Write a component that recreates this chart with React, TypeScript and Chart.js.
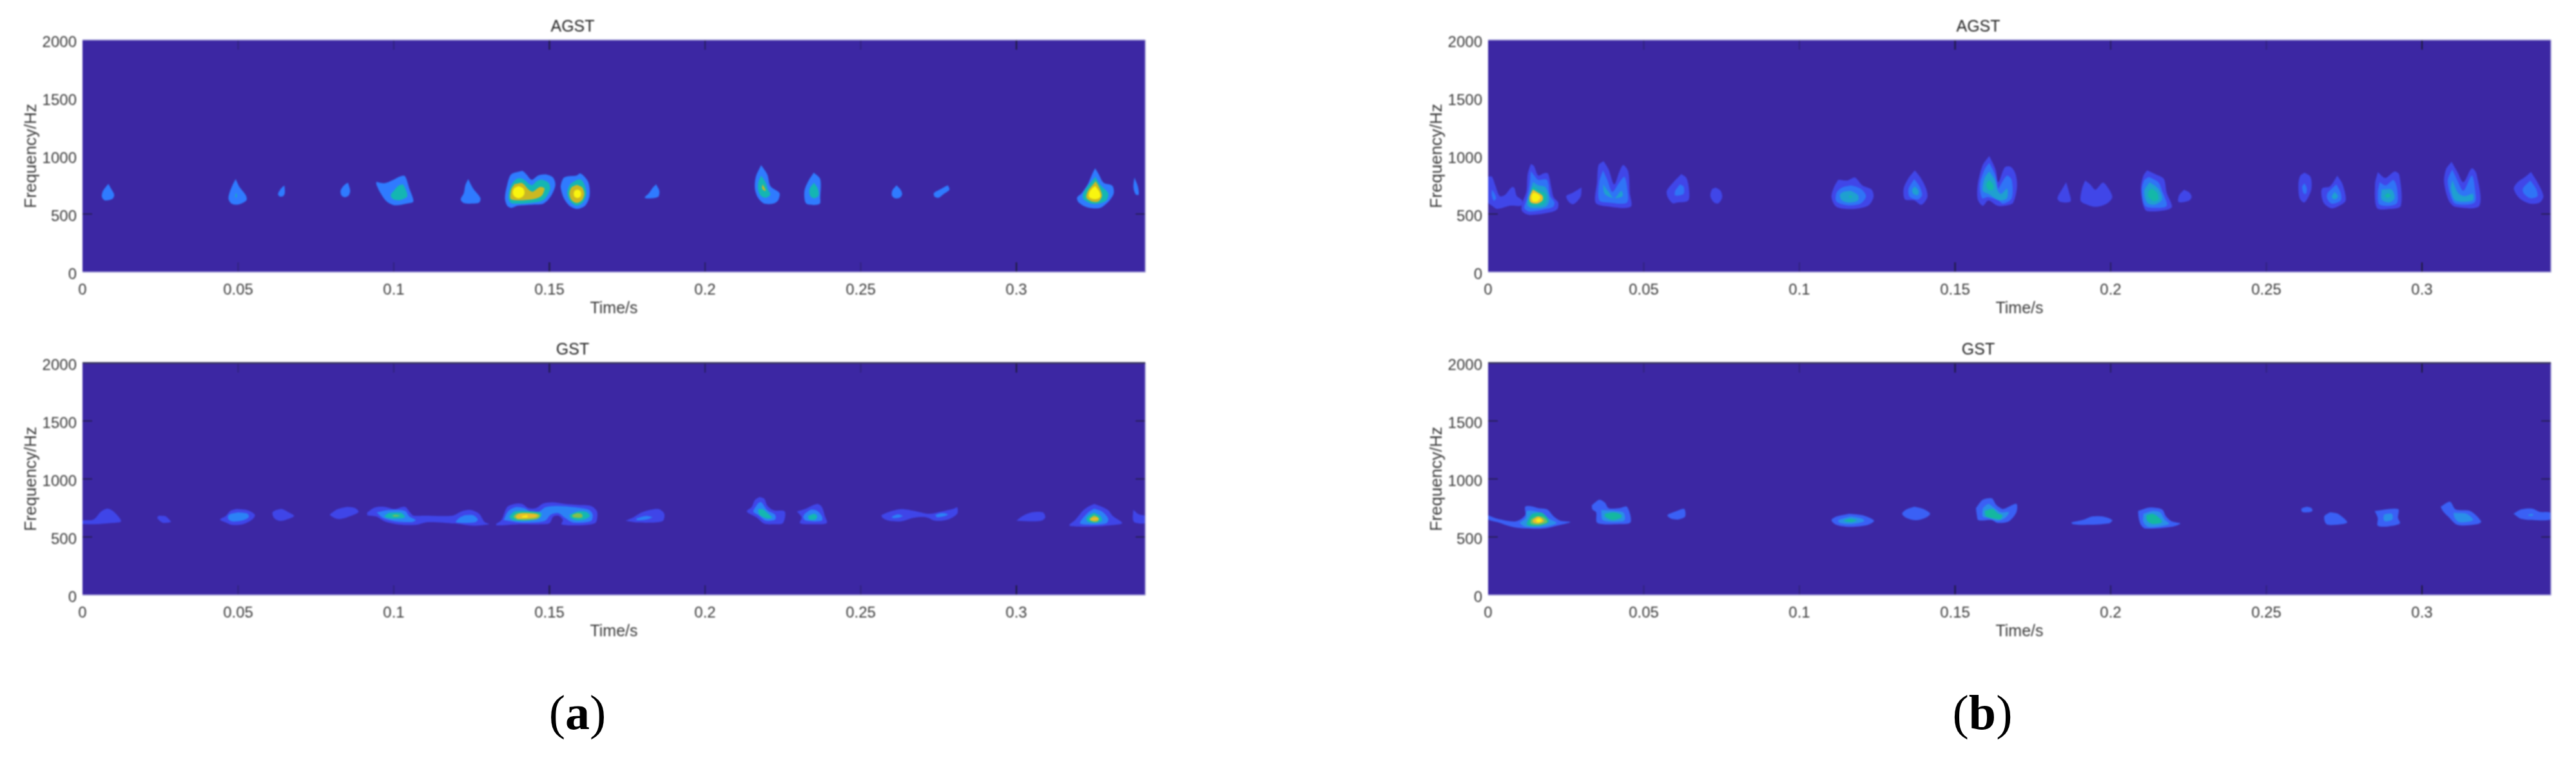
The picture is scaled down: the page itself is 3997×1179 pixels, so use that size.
import { useEffect, useRef } from "react";
import Chart from "chart.js/auto";

// each contour: [level, [t(ms), f(Hz), t, f, ...]]
type Contour = [number, number[]];

const xTickValues = [0, 0.05, 0.1, 0.15, 0.2, 0.25, 0.3];
const yTickValues = [0, 500, 1000, 1500, 2000];
const xTickShades = [null, 0.3, 0.3, 0.9, 0.55, 0.3, 0.9];

const agstLevelsA = ["", "#2F7BFF", "#14B6B2", "#CBB822", "#F9F50F"];
const gstLevelsA = ["", "#3F45E8", "#2B82F6", "#14B8B0", "#86C04A", "#E8BE28", "#F9EE10"];
const agstLevelsB = ["", "#4046E8", "#2F74F6", "#1FA0D0", "#14B8A8", "#E8BC30", "#F8F010"];
const gstLevelsB = ["", "#3A60F5", "#2A8FE8", "#14B8A0", "#70C060", "#E8BC30", "#F8F010"];

const agstA: Contour[] = [
  [1, [8.3,760, 9.6,700, 10.2,665, 9.8,635, 8.5,620, 7,620, 6.2,650, 6.6,700]],
  [1, [49.2,802, 50.5,730, 52.5,660, 52.7,620, 51,590, 49.5,580, 47.8,590, 46.9,630, 47.2,680, 48.2,750]],
  [2, [49.3,680, 49.6,660, 49.3,640, 49.1,660]],
  [1, [64.9,745, 65,680, 64.5,655, 63.5,650, 62.8,670, 63.5,710, 64.3,735]],
  [1, [85.3,770, 86,700, 85.5,660, 84.3,645, 83.2,660, 82.9,700, 83.6,735, 84.6,760]],
  [1, [94.4,778, 97,765, 99.5,790, 102.3,826, 103.6,826, 105,719, 106.3,608, 104.3,590, 100.3,575, 97.7,608, 95.7,682, 94.4,756]],
  [2, [103,755, 104,700, 104.3,650, 102,620, 100,625, 99,660, 100,700, 101.5,745]],
  [1, [123.9,802, 125.5,720, 127.8,640, 127.5,600, 125.5,590, 122.5,595, 121.5,625, 122.5,680, 123,750]],
  [1, [140.8,869, 137.7,841, 136.4,748, 135.7,637, 136.4,572, 137.7,553, 139.8,572, 144.6,581, 148.1,590, 150.5,655, 151.9,748, 151.2,813, 148.8,841, 146.4,832, 144.3,795, 142.6,841, 141.5,869]],
  [2, [139.5,804, 138.1,767, 137,692, 137,618, 138.1,590, 145.3,600, 148.4,627, 150.2,711, 149.8,767, 147.7,795, 146,785, 144.3,748, 141.9,795, 140.5,808]],
  [3, [138.8,757, 137.7,711, 137.7,627, 144.6,627, 147.4,655, 148.4,720, 147,733, 144.6,692, 143.3,711, 141.2,767]],
  [4, [140.1,740, 141.6,720, 142,687, 141.6,655, 140.1,635, 138.6,655, 138.2,687, 138.6,720]],
  [1, [153.9,776, 153.6,730, 154.6,637, 156.4,572, 158.8,544, 161.5,572, 162.9,655, 162.6,767, 161.2,823, 159.8,850, 158.8,832, 156.4,826, 154.6,813]],
  [2, [158.8,795, 156.7,757, 155.7,683, 156.7,609, 158.8,572, 160.8,600, 161.9,674, 161.2,757, 160.2,795]],
  [3, [158.8,752, 160.5,730, 161.2,674, 160.5,620, 158.8,596, 157.1,620, 156.4,674, 157.1,730]],
  [4, [159,711, 159.9,700, 160.2,674, 159.9,648, 159,637, 158.1,648, 157.8,674, 158.1,700]],
  [1, [184.3,756, 185.3,700, 185,650, 183,636, 180.6,640, 182,680, 183.3,730]],
  [1, [218,922, 220,840, 221,740, 223.9,680, 223.5,620, 222,590, 219,590, 217,640, 216,720, 216.3,820]],
  [2, [218,830, 219.5,770, 220.2,710, 221,670, 219.5,640, 217.8,660, 217,720, 217.2,780]],
  [3, [218.5,755, 219.3,715, 219.5,700, 218.8,705, 218.3,725]],
  [1, [234.9,857, 237,800, 237,640, 236.9,590, 235,578, 232.5,590, 231.9,640, 232,710, 233.3,790]],
  [2, [235,770, 236.2,720, 236.5,660, 235,636, 233.7,660, 233.6,720]],
  [1, [261.5,747, 262.8,710, 263.3,670, 262.5,640, 261,636, 260,660, 260.2,705]],
  [1, [278,747, 278.5,710, 276.5,670, 275,640, 273.7,650, 273.5,680, 275,705, 277,735]],
  [1, [325.3,894, 326.5,840, 328,770, 330.8,745, 331.3,680, 330,620, 327.5,560, 325.5,548, 322.5,560, 320,600, 319.5,640, 321,680, 323,760, 324.3,840]],
  [2, [325.4,820, 327,750, 329.5,680, 329,620, 326.5,590, 324,590, 321.5,630, 321.5,680, 323.5,760]],
  [3, [325.5,783, 326.8,720, 327.5,660, 326.5,610, 324.5,605, 322.5,640, 323,700, 324.5,750]],
  [4, [325.4,740, 326.7,690, 327,650, 326,630, 324.5,630, 323.3,650, 323.5,690, 324.5,725]],
  [1, [337.9,815, 339,740, 339.3,667, 338.3,670, 337.6,730]],
];

const gstA: Contour[] = [
  [1, [0,611, 0,640, 3.5,650, 6,720, 8,745, 10,720, 12.4,635, 9,620, 4,610]],
  [1, [24.5,684, 26.5,680, 27.5,660, 28.4,630, 26,621, 25,635, 24,665]],
  [1, [49.5,741, 53,730, 55.4,690, 54.5,650, 51.5,610, 48,604, 46,625, 44.2,650, 46,680, 47.5,725]],
  [2, [50,712, 53,700, 53.4,670, 51,640, 48,635, 46.8,655, 47,690]],
  [1, [62,730, 64,741, 66,715, 68,680, 65,645, 63,640, 61.5,665, 61,710]],
  [1, [85,760, 87.5,750, 88.7,715, 85,670, 82,655, 79.5,690, 80.5,715, 82,740]],
  [1, [91.5,712, 93.8,753, 97,760, 100.3,741, 103.6,760, 105.2,712, 106.3,684, 109.6,684, 118.8,684, 122.2,725, 124.8,732, 127.4,700, 129.2,628, 130.7,611, 125.5,597, 119.5,616, 111,628, 107,604, 101.7,607, 97,635, 94.4,676, 91.5,688]],
  [2, [94.5,712, 98.4,732, 103.6,725, 105,676, 107,645, 105.6,628, 100.3,635, 96.4,665]],
  [2, [122.8,688, 125.5,688, 127,652, 126,626, 120,626, 121,664]],
  [3, [98.4,708, 102.3,708, 103.6,669, 99.7,657, 97,676]],
  [4, [100.5,690, 102,684, 100.5,676, 99.5,684]],
  [1, [132.9,613, 134.6,646, 136.4,757, 138.8,785, 141.2,785, 143.3,748, 145.7,748, 147.7,785, 150.8,798, 155,785, 159.1,776, 163.3,767, 165.3,720, 165,628, 163.3,609, 158.4,600, 153.9,609, 154.3,646, 152.9,683, 151.2,674, 150,618, 146.7,609, 139.8,609, 132.9,600]],
  [2, [135.3,646, 136.7,720, 139.1,757, 141.9,748, 143.9,720, 146.7,720, 148.8,757, 152.9,767, 157.7,757, 162.6,735, 163.9,693, 163.3,637, 157.7,624, 155,665, 152.9,706, 150.5,693, 148.4,637, 141.2,624]],
  [3, [137,674, 138.8,720, 143.3,724, 147.4,706, 147,665, 143.9,643, 138.4,643]],
  [3, [156.4,690, 159.1,720, 161.9,715, 163,680, 161.2,650, 158.4,645, 156.8,665]],
  [4, [157.4,690, 159.1,705, 160.5,695, 160.5,670, 158.7,665, 157.4,675]],
  [4, [138.3,674, 139.8,705, 145.3,705, 147,687, 146,655, 139.8,650]],
  [5, [139.1,680, 140.5,702, 145,698, 146.4,683, 145,665, 139.8,657]],
  [6, [141.2,680, 142.9,687, 142.9,670, 141.2,670]],
  [1, [174.4,640, 177,670, 180,715, 184.9,741, 186.9,700, 186.5,640, 184,625, 178,625]],
  [2, [178,660, 181,680, 183,670, 181,650, 178,645]],
  [1, [217.5,845, 219,830, 220,770, 222,730, 225.6,720, 225,620, 222,610, 219,615, 216.5,670, 213.4,720, 215,760, 216,820]],
  [2, [217,790, 218,800, 220,730, 222.5,690, 222.5,650, 219.5,640, 217,690, 215.5,720]],
  [3, [217,740, 218.5,740, 220.3,700, 221.5,665, 219.8,660, 217.5,690]],
  [1, [229.5,720, 232,740, 236,785, 237.5,760, 238.5,680, 239.1,620, 235,610, 230.5,618, 231,670]],
  [2, [232,700, 234,735, 236,725, 237.5,680, 237.5,640, 232.5,640, 231.5,670]],
  [3, [233,680, 235,700, 236,680, 235.5,650, 233.5,650]],
  [1, [256.6,688, 259,715, 263,740, 268,720, 272,700, 276,720, 280,745, 281,755, 281,700, 278,650, 274,640, 271,670, 267,665, 263,635, 259,640, 257,665]],
  [2, [260.3,680, 262,695, 263.5,680, 262,665, 260,665]],
  [2, [274,690, 276,705, 278,695, 277,680, 274.5,670]],
  [1, [300,640, 302,680, 305,712, 308.5,712, 309.3,670, 308,640, 304,635]],
  [1, [325,785, 327.5,760, 329.5,730, 331,680, 334,620, 330,600, 325,590, 320,590, 317,600, 319,650, 321.5,730, 323,760]],
  [2, [325,745, 327.5,720, 329.5,660, 329,620, 325,605, 320.5,615, 321,650, 323,710]],
  [3, [325,710, 327,680, 327.5,640, 325.5,622, 323,630, 322.5,660, 323.5,690]],
  [4, [325,690, 326.5,660, 326,632, 324.5,632, 323.5,655]],
  [5, [324.5,670, 326,670, 326.5,650, 325,640, 323.5,650]],
  [1, [337.6,735, 339,700, 340,690, 341.4,680, 341.4,620, 338,625, 337.4,660]],
];

const agstB: Contour[] = [
  [1, [0,822, 1.2,822, 2.3,748, 3.7,655, 5.4,664, 7.5,729, 8.4,726, 9.2,655, 10.9,618, 10.6,572, 7.1,572, 3,544, 1.2,572, 0,600]],
  [2, [1.2,711, 1.9,683, 2.6,637, 1.9,614, 1.2,655]],
  [1, [13.7,930, 14.7,915, 16.1,832, 17.8,850, 19.2,850, 20.3,729, 21,646, 22.5,600, 22.3,544, 20.3,516, 13.3,492, 10.9,525, 10.9,590, 12.3,692, 12.7,841]],
  [2, [13.7,869, 15.1,822, 16.1,794, 18.9,794, 19.9,655, 21.3,600, 20.9,562, 18.9,544, 13.3,521, 11.6,553, 12.3,618, 13.3,748]],
  [3, [14.4,776, 16.1,748, 18.5,729, 19.6,618, 18.5,562, 13.7,553, 12.5,585, 13.3,674]],
  [4, [14.4,739, 16.5,702, 18.5,674, 18.5,609, 17.2,577, 13.7,577, 13,609, 13.7,683]],
  [5, [14.4,711, 16.1,683, 17.5,655, 17.5,618, 15.8,590, 13.7,600, 13.3,646]],
  [6, [14.4,683, 15.8,674, 16.8,646, 15.8,609, 14.4,609, 13.9,646]],
  [1, [30,729, 29.8,655, 28.6,609, 27.2,585, 25.8,609, 25.1,655, 27.2,683]],
  [1, [37.1,955, 38.7,885, 40.5,756, 42.2,867, 43.4,922, 45,867, 45.5,682, 45.8,562, 38,567, 34.5,599, 35,774, 35.5,922]],
  [2, [36.9,876, 38.3,793, 39.9,691, 42.2,774, 43.8,820, 44.6,737, 44.6,599, 38.7,599, 35.7,617, 35.7,774]],
  [3, [36.9,756, 38.7,691, 40.5,636, 42.8,700, 43.2,654, 40.5,636, 37.5,672]],
  [1, [62.1,845, 63.7,811, 64.5,719, 64.3,617, 60.7,599, 59.3,593, 57.7,645, 57.4,700, 59.5,774]],
  [2, [61.6,756, 62.8,737, 62.8,673, 60.1,660, 60.1,700]],
  [1, [73.2,728, 74.7,700, 75.2,645, 74,593, 72.6,599, 71.4,654, 72,715]],
  [1, [112.5,796, 115.4,789, 117.8,815, 120.2,747, 123.2,710, 123.8,645, 122,571, 116.6,543, 111.9,562, 110.3,645, 111.2,737]],
  [2, [116.6,747, 119.6,719, 121.4,654, 119.6,589, 115.4,575, 111.9,608, 111.9,682, 113.7,728]],
  [3, [116.6,700, 118.8,663, 118.8,617, 116,599, 113.7,617, 113,663, 114.2,691]],
  [4, [116.4,660, 117,648, 116.4,640, 115.8,648]],
  [1, [137.1,876, 139.2,802, 140.7,719, 141.1,645, 139.2,580, 136.9,617, 133.9,626, 133.5,719, 135.1,811]],
  [2, [136.9,802, 138.6,737, 139.4,663, 138,626, 135.4,649, 135.1,719]],
  [3, [137.1,737, 138.3,700, 138,663, 136.6,673, 136.2,711]],
  [1, [161,1000, 163,885, 163.9,774, 166,903, 167.9,907, 169.4,848, 169.9,737, 168.7,599, 166.7,575, 163.7,571, 160.7,617, 158.9,571, 157.3,626, 157.3,756, 158.9,922]],
  [2, [161,940, 163,830, 163.9,719, 164.3,737, 166.7,830, 168.2,793, 168.2,636, 165.5,589, 163.9,617, 160.7,645, 158.7,636, 158,756, 159.5,885]],
  [3, [161,867, 162.8,793, 163.7,700, 164.8,673, 166.7,719, 166.7,636, 164.3,617, 160.7,673, 158.9,700, 159.5,811]],
  [4, [161,793, 162.2,756, 162.2,710, 160.7,710, 160,756]],
  [1, [185.7,774, 186.5,700, 187.1,608, 183.9,604, 182.9,636, 184.5,719]],
  [1, [191.8,789, 193.4,756, 195.1,710, 197.5,771, 199.3,719, 200.5,645, 198.7,589, 195.1,562, 191.6,589, 190.3,617, 190.8,719]],
  [1, [211.7,876, 214.7,839, 217.1,802, 218,682, 219.7,562, 217.7,534, 211.7,525, 210.5,571, 209.7,719, 210.5,830]],
  [2, [212.3,820, 215.3,774, 216.5,700, 218,571, 214.7,553, 211,571, 210,700, 210.8,793]],
  [3, [212.5,774, 215.3,719, 216.5,626, 214.1,580, 211.7,599, 210.8,700]],
  [4, [213.3,719, 214.9,682, 215.3,626, 213.7,612, 212,654, 212.3,700]],
  [1, [223.6,710, 225.4,682, 226,645, 224.9,612, 221.8,604, 222,663]],
  [1, [262.3,857, 264.2,820, 264.5,719, 263.3,636, 262.1,599, 260.7,636, 260.3,756, 260.9,830]],
  [2, [262.3,765, 263,719, 262.7,673, 261.9,682, 261.5,737]],
  [1, [272.8,830, 274.5,756, 275.5,617, 273.4,571, 271,549, 268.6,589, 267.7,663, 268,722, 270.4,737]],
  [2, [272.5,756, 273.9,682, 273.9,617, 271,589, 269.5,636, 269.7,682]],
  [3, [271.9,691, 273,654, 272.1,626, 271,645]],
  [1, [285.8,861, 288.2,811, 291.2,867, 292.7,839, 293.2,571, 289.4,543, 285.5,553, 284.9,756]],
  [2, [286.4,774, 288.4,747, 290.8,793, 292,719, 291.8,589, 286.4,580, 285.8,682]],
  [3, [287,710, 290.3,710, 291.2,636, 289.4,599, 287,626]],
  [4, [289,680, 290,660, 289,640, 288,655]],
  [1, [309.5,950, 311.3,867, 313.3,774, 316,894, 317.5,848, 318.4,571, 310.7,562, 308.6,617, 307.1,774, 307.7,885]],
  [2, [309.7,885, 311.3,793, 313.3,700, 316,830, 317,719, 316.9,599, 310.7,589, 309,673, 308.3,793]],
  [3, [309.7,793, 311.6,682, 313.6,654, 316.3,673, 316.3,617, 310.7,617, 309.3,719]],
  [1, [335,863, 337.1,774, 339,654, 337.8,599, 334.8,589, 331.3,636, 329.5,719, 330.7,774, 333.1,820]],
  [2, [334.8,789, 336.6,719, 337.1,654, 334.8,636, 332.8,673, 332.4,719]],
];

const gstB: Contour[] = [
  [1, [0,688, 3,657, 8.9,635, 11.9,688, 11.9,760, 13.7,765, 16.1,749, 19,737, 21.1,676, 23.2,640, 26.4,628, 23.2,604, 17.9,573, 11.9,573, 7.7,587, 3,628, 0,652]],
  [2, [10.1,621, 12.1,664, 12.5,725, 16.7,712, 19,664, 22,621, 17.9,587, 11.9,587]],
  [3, [13.1,664, 14.3,700, 17.3,708, 19.6,635, 16.7,597, 12.5,604]],
  [4, [13.7,652, 15.5,676, 17.9,669, 19,628, 16.1,604, 13.7,616]],
  [5, [14.3,645, 16.1,676, 17.6,652, 17.9,635, 16.1,616, 14.5,626]],
  [6, [15.2,645, 16.4,660, 17.3,640, 16.1,626]],
  [1, [33.3,773, 35.7,821, 37.5,797, 38.7,749, 42.2,749, 44.6,761, 45.8,628, 42.2,611, 35.1,621, 34.7,712, 33.5,737]],
  [2, [36.3,732, 40.5,725, 43.4,712, 44,664, 43.4,635, 36.9,645]],
  [3, [37.5,700, 40.5,712, 42.9,688, 42.6,664, 39.9,645, 37.5,676]],
  [1, [60.7,725, 63,741, 63.3,676, 61.3,652, 58.9,657, 57.6,688]],
  [1, [116,700, 120.8,684, 124,640, 122,604, 116.6,587, 111.9,604, 110.3,645, 111.9,676]],
  [2, [116.6,676, 120.2,657, 120.8,635, 116.6,611, 113,621, 112.5,645]],
  [3, [116.3,657, 118.4,645, 116.6,628, 114.2,640]],
  [1, [136.9,761, 139.8,741, 142,700, 140.4,664, 137.4,645, 134.4,664, 133,700, 134.4,737]],
  [1, [156.7,749, 158.9,821, 161.8,833, 163,785, 163.9,761, 165.5,741, 169.7,785, 169.7,712, 167.3,635, 163.7,621, 161.8,645, 157.5,645, 157,688]],
  [2, [158.9,749, 160.7,785, 162.1,761, 163.9,725, 164.9,712, 167.3,712, 166.1,664, 163.7,640, 160.7,664, 158.9,676]],
  [3, [159.5,725, 162.1,741, 163.9,700, 165.2,688, 164.7,657, 163.9,652, 160,676]],
  [1, [187.4,626, 191.6,652, 194,676, 197.5,676, 200.5,645, 199.3,616, 191.6,604, 187.7,611]],
  [1, [208.8,724, 212.3,753, 216.5,737, 217.8,676, 219.6,635, 222.4,616, 219.6,587, 211.1,573, 209.7,604, 209,664]],
  [2, [210.5,700, 213.5,725, 215.9,712, 217.3,652, 218.8,611, 212.3,585, 210.5,628]],
  [3, [211.4,688, 213.5,700, 215.6,664, 216.5,628, 213.5,611, 211.7,640]],
  [1, [263,761, 264.5,749, 264.8,724, 263.3,712, 261.5,717, 261.3,744]],
  [1, [270.4,712, 273,700, 276,628, 274.5,611, 269.4,609, 268.6,676]],
  [1, [284.8,724, 292.3,741, 292.3,664, 292.9,616, 289.4,592, 285.8,597, 285.8,664]],
  [2, [287.9,695, 290.3,700, 290.5,652, 288.1,635, 287.6,664]],
  [1, [306,761, 309,804, 310.8,737, 315.5,724, 319,635, 317.9,611, 311.4,604, 308.4,676, 306.7,724]],
  [2, [310.1,708, 314.3,700, 316.4,645, 312,628, 310.5,664]],
  [1, [329.4,700, 331.8,737, 335.4,744, 337.7,717, 341.3,708, 341.3,652, 336.5,645, 331.8,657]],
  [2, [334.2,693, 335.6,698, 335.6,684, 334.2,684]],
];

const background = "#3C27A3";
const labelColor = "#3a3a3a";
const sans = "'Liberation Sans', Arial, sans-serif";

// MATLAB style frame and inward ticks, all placed through the scales
const axesFrame = {
  id: "axesFrame",
  beforeDatasetsDraw(chart) {
    const { ctx, chartArea: a } = chart;
    ctx.save();
    ctx.fillStyle = background;
    ctx.fillRect(a.left, a.top, a.width, a.height);
    ctx.restore();
  },
  afterDatasetsDraw(chart, _args, opts) {
    const { ctx, chartArea: a, scales } = chart;
    ctx.save();
    ctx.lineWidth = 2;
    xTickValues.forEach((v, i) => {
      if (!xTickShades[i]) return;
      const x = scales.x.getPixelForValue(v);
      ctx.strokeStyle = `rgba(25,25,45,${xTickShades[i]})`;
      ctx.beginPath();
      ctx.moveTo(x, a.top);
      ctx.lineTo(x, a.top + 15);
      ctx.moveTo(x, a.bottom);
      ctx.lineTo(x, a.bottom - 15);
      ctx.stroke();
    });
    opts.yMarks.forEach((v) => {
      const y = scales.y.getPixelForValue(v);
      ctx.strokeStyle = "rgba(25,25,45,0.6)";
      ctx.beginPath();
      ctx.moveTo(a.left, y);
      ctx.lineTo(a.left + 15, y);
      ctx.moveTo(a.right, y);
      ctx.lineTo(a.right - 15, y);
      ctx.stroke();
    });
    ctx.strokeStyle = "#a8a4d8";
    ctx.lineWidth = 1.5;
    ctx.beginPath();
    ctx.moveTo(a.left, a.bottom);
    ctx.lineTo(a.right, a.bottom);
    ctx.lineTo(a.right, a.top);
    ctx.stroke();
    ctx.strokeStyle = opts.topEdge;
    ctx.lineWidth = opts.topWidth;
    ctx.beginPath();
    ctx.moveTo(a.left, a.top);
    ctx.lineTo(a.right, a.top);
    ctx.stroke();
    ctx.restore();
  },
};

function Panel({ title, contours, levels, left, top, upper }) {
  const canvasRef = useRef(null);

  useEffect(() => {
    if (!canvasRef.current) return;
    // deepest level first: Chart.js paints dataset 0 last
    const sorted = [...contours].sort((p, q) => q[0] - p[0]);
    const datasets = sorted.map(([level, flat]) => {
      const data = [];
      for (let i = 0; i < flat.length; i += 2) data.push({ x: flat[i] / 1000, y: flat[i + 1] });
      data.push(data[0]);
      return {
        data,
        backgroundColor: levels[level],
        borderWidth: 0,
        pointRadius: 0,
        tension: 0.3,
        fill: "shape",
      };
    });
    const chart = new Chart(canvasRef.current, {
      type: "line",
      data: { datasets },
      plugins: [axesFrame],
      options: {
        responsive: false,
        animation: false,
        events: [],
        devicePixelRatio: 1,
        layout: { padding: { right: 23 } },
        plugins: {
          legend: { display: false },
          tooltip: { enabled: false },
          title: {
            display: true,
            text: title,
            color: "#222",
            font: { family: sans, size: 25, weight: "normal", lineHeight: "30px" },
            padding: { top: 5, bottom: 5 },
          },
          axesFrame: {
            yMarks: upper ? [500] : [500, 1000, 1500],
            topEdge: upper ? "#a8a4d8" : "#35325a",
            topWidth: upper ? 1.5 : 2.5,
          },
        },
        scales: {
          x: {
            type: "linear",
            min: 0,
            max: 0.3414,
            afterFit: (s) => { s.height = 72; },
            afterBuildTicks: (s) => { s.ticks = xTickValues.map((value) => ({ value })); },
            grid: { display: false, drawTicks: false },
            border: { display: false },
            ticks: {
              autoSkip: false,
              maxRotation: 0,
              padding: 14,
              color: labelColor,
              font: { family: sans, size: 24 },
              callback: (v) => String(v),
            },
            title: {
              display: true,
              text: "Time/s",
              color: labelColor,
              font: { family: sans, size: 25, lineHeight: 1.2 },
              padding: { top: 0, bottom: 0 },
            },
          },
          y: {
            type: "linear",
            min: 0,
            max: 2000,
            afterFit: (s) => { s.width = 128; },
            afterBuildTicks: (s) => { s.ticks = yTickValues.map((value) => ({ value })); },
            grid: { display: false, drawTicks: false },
            border: { display: false },
            ticks: {
              autoSkip: false,
              padding: 9,
              labelOffset: 4,
              color: labelColor,
              font: { family: sans, size: 24 },
              callback: (v) => String(v),
            },
            title: {
              display: true,
              text: "Frequency/Hz",
              color: labelColor,
              font: { family: sans, size: 26, lineHeight: 1.2 },
              padding: { top: 33, bottom: 0 },
            },
          },
        },
      },
    });
    return () => chart.destroy();
  }, []);

  return (
    <canvas
      ref={canvasRef}
      width={1800}
      height={472}
      style={{ position: "absolute", left, top, width: 1800, height: 472, filter: "blur(0.9px)" }}
    />
  );
}

const captionStyle = {
  position: "absolute",
  top: 1060,
  fontFamily: "'Liberation Serif', serif",
  fontSize: 76,
  lineHeight: "90px",
  color: "#000",
  transform: "translateX(-50%)",
};

export default function App() {
  return (
    <div style={{ position: "absolute", left: 0, top: 0, width: 3997, height: 1179, background: "#fff", overflow: "hidden" }}>
      <Panel title="AGST" contours={agstA} levels={agstLevelsA} left={0} top={22} upper />
      <Panel title="GST" contours={gstA} levels={gstLevelsA} left={0} top={523} upper={false} />
      <Panel title="AGST" contours={agstB} levels={agstLevelsB} left={2181} top={22} upper />
      <Panel title="GST" contours={gstB} levels={gstLevelsB} left={2181} top={523} upper={false} />
      <div style={{ ...captionStyle, left: 896 }}>(<b>a</b>)</div>
      <div style={{ ...captionStyle, left: 3076 }}>(<b>b</b>)</div>
    </div>
  );
}
